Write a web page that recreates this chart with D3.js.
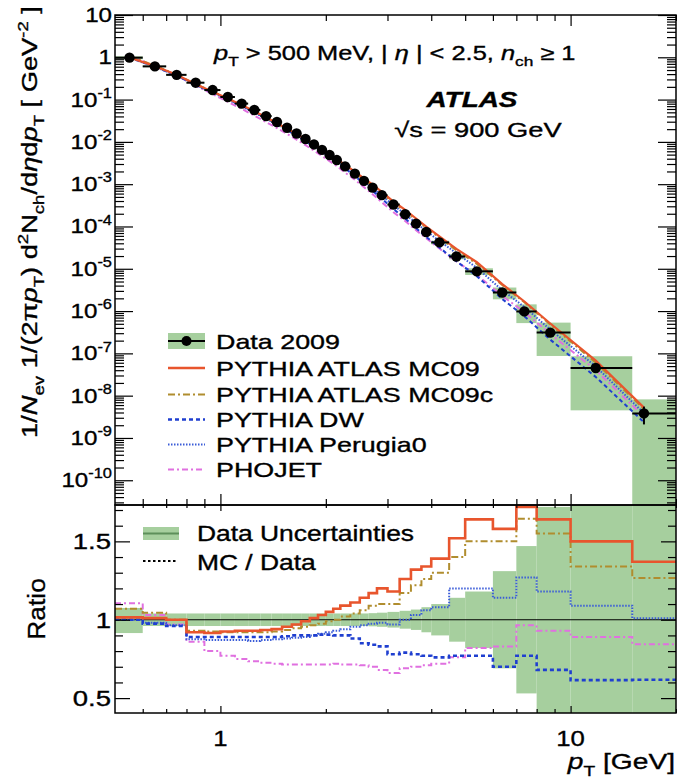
<!DOCTYPE html>
<html>
<head>
<meta charset="utf-8">
<script src="https://cdn.jsdelivr.net/npm/d3@7"></script>
<style>
body { margin: 0; background: #fff; }
text { font-family: "Liberation Sans", Arial, Helvetica, sans-serif; fill: #000; stroke: #000; stroke-width: 0.35px; }
</style>
</head>
<body>
<script>
// pT bin edges [GeV]
var ptEdges = [0.5, 0.6, 0.7, 0.8, 0.9, 1.0, 1.1, 1.2, 1.3, 1.4, 1.5, 1.6, 1.7, 1.8, 1.9, 2.0,
  2.1, 2.2, 2.35, 2.5, 2.65, 2.8, 3.0, 3.25, 3.5, 3.75, 4.0, 4.5, 5.0, 6.0, 7.0, 8.0, 10, 15, 20];
// where the data marker sits inside each bin
var ptPoints = [0.55, 0.65, 0.75, 0.85, 0.95, 1.05, 1.15, 1.25, 1.35, 1.45, 1.55, 1.65, 1.75, 1.85, 1.95,
  2.05, 2.15, 2.27, 2.42, 2.57, 2.72, 2.89, 3.12, 3.37, 3.62, 3.87, 4.22, 4.72, 5.4, 6.38, 7.38, 8.75, 11.8, 16.2];
// 1/Nev 1/(2pi pT) d2N/deta dpT  [GeV^-2]
var dataVals = [0.98, 0.61, 0.385, 0.251, 0.168, 0.115, 0.0804, 0.0569, 0.0407, 0.0295,
  0.0216, 0.0158, 0.0117, 0.0087, 0.00646, 0.0049, 0.00372, 0.00263, 0.00178, 0.0012,
  8.3e-4, 5.5e-4, 3.3e-4, 1.95e-4, 1.17e-4, 7.4e-5, 4.2e-5, 1.95e-5, 8.7e-6, 2.75e-6,
  9.8e-7, 3.1e-7, 4.5e-8, 3.8e-9];
var statErr = [0.01, 0.01, 0.01, 0.01, 0.01, 0.01, 0.01, 0.01, 0.01, 0.01, 0.01, 0.01, 0.01, 0.01,
  0.01, 0.01, 0.01, 0.01, 0.01, 0.01, 0.01, 0.01, 0.01, 0.01, 0.01, 0.01, 0.01, 0.01,
  0.03, 0.05, 0.08, 0.12, 0.2, 0.45];
// relative total uncertainty (green band)
var uncUp = [0.075, 0.04, 0.04, 0.04, 0.04, 0.04, 0.04, 0.04, 0.04, 0.04, 0.04, 0.04, 0.04, 0.04,
  0.04, 0.04, 0.04, 0.04, 0.04, 0.04, 0.042, 0.045, 0.05, 0.057, 0.065, 0.08, 0.10, 0.14,
  0.18, 0.31, 0.47, 0.72, 0.9, 1.15];
var uncDown = [0.085, 0.04, 0.04, 0.04, 0.04, 0.04, 0.04, 0.04, 0.04, 0.04, 0.04, 0.04, 0.04, 0.04,
  0.04, 0.04, 0.04, 0.04, 0.04, 0.04, 0.042, 0.045, 0.05, 0.057, 0.065, 0.08, 0.10, 0.14,
  0.18, 0.31, 0.47, 0.72, 0.9, 1.15];
// MC / Data ratios
var ratioMC09 = [1.015, 1.01, 1.00, 0.92, 0.915, 0.925, 0.93, 0.93, 0.935, 0.94, 0.955, 0.97, 0.99,
  1.01, 1.03, 1.05, 1.07, 1.09, 1.11, 1.14, 1.17, 1.20, 1.18, 1.26, 1.32, 1.34, 1.39, 1.52,
  1.64, 1.58, 1.72, 1.64, 1.50, 1.37];
var ratioMC09c = [1.07, 1.045, 1.0, 0.93, 0.925, 0.92, 0.92, 0.92, 0.92, 0.925, 0.935, 0.945, 0.955,
  0.965, 0.975, 0.99, 1.0, 1.02, 1.04, 1.06, 1.09, 1.10, 1.10, 1.17, 1.22, 1.26, 1.30, 1.40,
  1.50, 1.50, 1.645, 1.55, 1.34, 1.266];
var ratioDW = [1.0, 0.975, 0.96, 0.89, 0.89, 0.89, 0.89, 0.89, 0.89, 0.89, 0.895, 0.9, 0.9, 0.9,
  0.905, 0.905, 0.9, 0.9, 0.88, 0.85, 0.84, 0.83, 0.78, 0.79, 0.78, 0.77, 0.76, 0.77, 0.77,
  0.70, 0.77, 0.68, 0.615, 0.617];
var ratioPerugia0 = [1.0, 0.98, 0.965, 0.875, 0.87, 0.87, 0.87, 0.865, 0.87, 0.875, 0.88, 0.885,
  0.89, 0.9, 0.91, 0.92, 0.93, 0.94, 0.955, 0.965, 0.975, 0.98, 0.97, 1.0, 1.03, 1.06, 1.08,
  1.20, 1.20, 1.14, 1.27, 1.18, 1.09, 1.01];
var ratioPhojet = [1.105, 1.03, 0.97, 0.86, 0.80, 0.77, 0.75, 0.735, 0.725, 0.72, 0.715, 0.715,
  0.715, 0.715, 0.715, 0.715, 0.72, 0.715, 0.715, 0.71, 0.70, 0.68, 0.66, 0.69, 0.70, 0.71,
  0.72, 0.76, 0.82, 0.83, 0.965, 0.93, 0.89, 0.844];

var mcNames = ["PYTHIA ATLAS MC09", "PYTHIA ATLAS MC09c", "PYTHIA DW", "PYTHIA Perugia0", "PHOJET"];
var mcRatios = [ratioMC09, ratioMC09c, ratioDW, ratioPerugia0, ratioPhojet];
var mcStyles = [
  { color: "#e8552d", dash: null, width: 2.6 },
  { color: "#b08d2e", dash: "7,3,2,3", width: 2 },
  { color: "#1f3fd0", dash: "4,3", width: 2.6 },
  { color: "#3a5cd8", dash: "1.5,1.5", width: 2 },
  { color: "#e070e0", dash: "6,3,2,3", width: 2 }
];

var w = 677, h = 780;
var pLeft = 115, pRight = 676, pTop = 15, pMid = 505, pBottom = 713;
var green = "#a6cf9e";

var svg = d3.select("body").append("svg")
  .attr("width", w)
  .attr("height", h);

svg.append("rect").attr("width", w).attr("height", h).attr("fill", "#fff");

var x = d3.scaleLog().domain([0.5, 20]).range([pLeft, pRight]);
var y = d3.scaleLog().domain([2.6e-11, 10]).range([pMid, pTop]);
var yr = d3.scaleLinear().domain([0.405, 1.732]).range([pBottom, pMid]);

var defs = svg.append("defs");
defs.append("clipPath").attr("id", "clipMain").append("rect")
  .attr("x", pLeft).attr("y", pTop).attr("width", pRight - pLeft).attr("height", pMid - pTop);
defs.append("clipPath").attr("id", "clipRatio").append("rect")
  .attr("x", pLeft).attr("y", pMid).attr("width", pRight - pLeft).attr("height", pBottom - pMid);

// text placed at (tx,ty), stretched along its direction by sx (the plot font runs wide)
function label(tx, ty, size, sx, rot) {
  return svg.append("text")
    .attr("transform", "translate(" + tx + "," + ty + ")" + (rot ? " rotate(" + rot + ")" : "") +
      " scale(" + sx + ",1)")
    .attr("font-size", size);
}

// helper for text with sub/superscripts
function rich(sel, parts, size) {
  var shift = 0;
  parts.forEach(function(p) {
    var t = sel.append("tspan").text(p[0]);
    var want = 0;
    if (p[1] == "sub") want = size * 0.3;
    if (p[1] == "sup") want = -size * 0.42;
    t.attr("dy", want - shift);
    shift = want;
    if (p[1] == "sub" || p[1] == "sup") t.attr("font-size", size * 0.68);
    if (p[1] == "i") t.attr("font-style", "italic");
  });
}

// ---------- main panel ----------
var gMain = svg.append("g").attr("clip-path", "url(#clipMain)");

gMain.selectAll(".box")
  .data(dataVals)
  .enter()
  .append("rect")
  .attr("x", function(d, i) { return x(ptEdges[i]); })
  .attr("width", function(d, i) { return x(ptEdges[i + 1]) - x(ptEdges[i]); })
  .attr("y", function(d, i) { return y(d * (1 + uncUp[i])); })
  .attr("height", function(d, i) {
    var lo = d * (1 - uncDown[i]);
    var yl = lo > 0 ? y(lo) : pMid + 5;
    return yl - y(d * (1 + uncUp[i]));
  })
  .attr("fill", green);

var mainLine = d3.line()
  .x(function(d) { return x(d[0]); })
  .y(function(d) { return y(d[1]); });

[4, 3, 2, 1, 0].forEach(function(k) {
  var r = mcRatios[k];
  var pts = r.map(function(v, i) { return [ptPoints[i], dataVals[i] * v]; });
  gMain.append("path")
    .attr("d", mainLine(pts))
    .attr("fill", "none")
    .attr("stroke", mcStyles[k].color)
    .attr("stroke-width", k == 0 ? 2.2 : 2)
    .attr("stroke-dasharray", mcStyles[k].dash);
});

gMain.selectAll(".hbar")
  .data(dataVals)
  .enter()
  .append("line")
  .attr("x1", function(d, i) { return x(ptEdges[i]); })
  .attr("x2", function(d, i) { return x(ptEdges[i + 1]); })
  .attr("y1", function(d) { return y(d); })
  .attr("y2", function(d) { return y(d); })
  .attr("stroke", "#000")
  .attr("stroke-width", 2);

gMain.selectAll(".vbar")
  .data(dataVals)
  .enter()
  .append("line")
  .attr("x1", function(d, i) { return x(ptPoints[i]); })
  .attr("x2", function(d, i) { return x(ptPoints[i]); })
  .attr("y1", function(d, i) { return y(d * (1 + statErr[i])); })
  .attr("y2", function(d, i) { return y(d * (1 - statErr[i])); })
  .attr("stroke", "#000")
  .attr("stroke-width", 2);

gMain.selectAll(".dot")
  .data(dataVals)
  .enter()
  .append("circle")
  .attr("cx", function(d, i) { return x(ptPoints[i]); })
  .attr("cy", function(d) { return y(d); })
  .attr("r", 5.2)
  .attr("fill", "#000");

// ---------- ratio panel ----------
var gRatio = svg.append("g").attr("clip-path", "url(#clipRatio)");

gRatio.selectAll(".band")
  .data(dataVals)
  .enter()
  .append("rect")
  .attr("x", function(d, i) { return x(ptEdges[i]); })
  .attr("width", function(d, i) { return x(ptEdges[i + 1]) - x(ptEdges[i]); })
  .attr("y", function(d, i) { return yr(1 + uncUp[i]); })
  .attr("height", function(d, i) { return yr(1 - uncDown[i]) - yr(1 + uncUp[i]); })
  .attr("fill", green);

gRatio.append("line")
  .attr("x1", pLeft).attr("x2", pRight)
  .attr("y1", yr(1)).attr("y2", yr(1))
  .attr("stroke", "#000").attr("stroke-width", 1.2);

var stepLine = d3.line()
  .x(function(d) { return x(d[0]); })
  .y(function(d) { return yr(d[1]); })
  .curve(d3.curveStepAfter);

// draw from back to front so MC09 ends on top
[4, 3, 2, 1, 0].forEach(function(k) {
  var r = mcRatios[k];
  var pts = r.map(function(v, i) { return [ptEdges[i], v]; });
  pts.push([ptEdges[ptEdges.length - 1], r[r.length - 1]]);
  gRatio.append("path")
    .attr("d", stepLine(pts))
    .attr("fill", "none")
    .attr("stroke", mcStyles[k].color)
    .attr("stroke-width", mcStyles[k].width)
    .attr("stroke-dasharray", mcStyles[k].dash);
});

// ---------- axes / ticks ----------
var decades = d3.range(-10, 2).map(function(e) { return Math.pow(10, e); });
var minors = [];
d3.range(-11, 1).forEach(function(e) {
  for (var m = 2; m <= 9; m++) {
    var v = m * Math.pow(10, e);
    if (v > 2.6e-11 && v < 10) minors.push(v);
  }
});
var xMajor = [1, 10];
var xMinor = [0.6, 0.7, 0.8, 0.9, 2, 3, 4, 5, 6, 7, 8, 9, 20];

function ticks(g, axis) {
  g.call(axis);
  g.select(".domain").remove();
  g.selectAll("line").attr("stroke", "#000").attr("stroke-width", 1.2);
  g.selectAll("text").remove();
}

svg.append("g").attr("transform", "translate(" + pLeft + ",0)")
  .call(ticks, d3.axisLeft(y).tickValues(decades).tickSize(-18));
svg.append("g").attr("transform", "translate(" + pLeft + ",0)")
  .call(ticks, d3.axisLeft(y).tickValues(minors).tickSize(-9));
svg.append("g").attr("transform", "translate(" + pRight + ",0)")
  .call(ticks, d3.axisRight(y).tickValues(decades).tickSize(-18));
svg.append("g").attr("transform", "translate(" + pRight + ",0)")
  .call(ticks, d3.axisRight(y).tickValues(minors).tickSize(-9));

svg.append("g").attr("transform", "translate(0," + pTop + ")")
  .call(ticks, d3.axisTop(x).tickValues(xMajor).tickSize(-11));
svg.append("g").attr("transform", "translate(0," + pTop + ")")
  .call(ticks, d3.axisTop(x).tickValues(xMinor).tickSize(-6));
svg.append("g").attr("transform", "translate(0," + pMid + ")")
  .call(ticks, d3.axisBottom(x).tickValues(xMajor).tickSize(-11));
svg.append("g").attr("transform", "translate(0," + pMid + ")")
  .call(ticks, d3.axisBottom(x).tickValues(xMinor).tickSize(-6));
svg.append("g").attr("transform", "translate(0," + pMid + ")")
  .call(ticks, d3.axisTop(x).tickValues(xMajor).tickSize(-6));
svg.append("g").attr("transform", "translate(0," + pMid + ")")
  .call(ticks, d3.axisTop(x).tickValues(xMinor).tickSize(-3));
svg.append("g").attr("transform", "translate(0," + pBottom + ")")
  .call(ticks, d3.axisBottom(x).tickValues(xMajor).tickSize(-7));
svg.append("g").attr("transform", "translate(0," + pBottom + ")")
  .call(ticks, d3.axisBottom(x).tickValues(xMinor).tickSize(-4));

var rMajor = [0.5, 1, 1.5];
var rMinor = [0.6, 0.7, 0.8, 0.9, 1.1, 1.2, 1.3, 1.4, 1.6, 1.7];
svg.append("g").attr("transform", "translate(" + pLeft + ",0)")
  .call(ticks, d3.axisLeft(yr).tickValues(rMajor).tickSize(-15));
svg.append("g").attr("transform", "translate(" + pLeft + ",0)")
  .call(ticks, d3.axisLeft(yr).tickValues(rMinor).tickSize(-8));
svg.append("g").attr("transform", "translate(" + pRight + ",0)")
  .call(ticks, d3.axisRight(yr).tickValues(rMajor).tickSize(-15));
svg.append("g").attr("transform", "translate(" + pRight + ",0)")
  .call(ticks, d3.axisRight(yr).tickValues(rMinor).tickSize(-8));

// frames
svg.append("rect").attr("x", pLeft).attr("y", pTop).attr("width", pRight - pLeft).attr("height", pMid - pTop)
  .attr("fill", "none").attr("stroke", "#000").attr("stroke-width", 1.5);
svg.append("rect").attr("x", pLeft).attr("y", pMid).attr("width", pRight - pLeft).attr("height", pBottom - pMid)
  .attr("fill", "none").attr("stroke", "#000").attr("stroke-width", 1.5);

// y tick labels (main)
decades.forEach(function(v) {
  var e = Math.round(Math.log10(v));
  var t = label(112, y(v) + 7, 21, 1.15).attr("text-anchor", "end");
  if (e == 0) t.text("1");
  else if (e == 1) t.text("10");
  else rich(t, [["10", "n"], [String(e), "sup"]], 21);
});

// ratio tick labels
var rLabels = ["0.5", "1", "1.5"];
rMajor.forEach(function(v, i) {
  label(111, yr(v) + 8, 22, 1.25).attr("text-anchor", "end").text(rLabels[i]);
});

// x tick labels
var xLabels = ["1", "10"];
xMajor.forEach(function(v, i) {
  label(x(v), 746, 23, 1.12).attr("text-anchor", "middle").text(xLabels[i]);
});

// axis titles
var xt = label(675, 769, 22, 1.28).attr("text-anchor", "end");
rich(xt, [["p", "i"], ["T", "sub"], [" [GeV]", "n"]], 22);

var yt = label(37, 222, 22, 1.24, -90).attr("text-anchor", "middle");
rich(yt, [["1/", "n"], ["N", "i"], ["ev", "sub"], [" 1/(2\u03C0", "n"], ["p", "i"], ["T", "sub"],
  [") d", "n"], ["2", "sup"], ["N", "n"], ["ch", "sub"], ["/d", "n"], ["\u03B7", "i"], ["d", "n"],
  ["p", "i"], ["T", "sub"], [" [ GeV", "n"], ["-2", "sup"], [" ]", "n"]], 22);

label(45, 609, 24, 1.1, -90).attr("text-anchor", "middle").text("Ratio");

// annotations
var cut = label(214, 60, 20, 1.27);
rich(cut, [["p", "i"], ["T", "sub"], [" > 500 MeV, | ", "n"], ["\u03B7", "i"], [" | < 2.5, ", "n"],
  ["n", "i"], ["ch", "sub"], [" \u2265 1", "n"]], 20);

label(472, 107, 22, 1.27).attr("text-anchor", "middle")
  .attr("font-weight", "bold").attr("font-style", "italic").text("ATLAS");

label(478, 137, 21, 1.3).attr("text-anchor", "middle").text("\u221As = 900 GeV");

// ---------- legends ----------
var legRows = [341, 368, 394.5, 419.5, 444.5, 469.5];
var legX1 = 168, legX2 = 205;
var lg = svg.append("g");
lg.append("rect").attr("x", legX1).attr("y", legRows[0] - 8).attr("width", legX2 - legX1).attr("height", 16)
  .attr("fill", green);
lg.append("line").attr("x1", legX1).attr("x2", legX2).attr("y1", legRows[0]).attr("y2", legRows[0])
  .attr("stroke", "#000").attr("stroke-width", 2);
lg.append("circle").attr("cx", (legX1 + legX2) / 2).attr("cy", legRows[0]).attr("r", 5).attr("fill", "#000");
label(216, legRows[0] + 7.5, 21, 1.28).text("Data 2009");

mcNames.forEach(function(n, k) {
  var yy = legRows[k + 1];
  lg.append("line").attr("x1", legX1).attr("x2", legX2).attr("y1", yy).attr("y2", yy)
    .attr("stroke", mcStyles[k].color)
    .attr("stroke-width", mcStyles[k].width)
    .attr("stroke-dasharray", mcStyles[k].dash);
  label(216, yy + 7.5, 21, 1.28).text(n);
});

var rl = svg.append("g");
rl.append("rect").attr("x", 143).attr("y", 527).attr("width", 36).attr("height", 13).attr("fill", green);
rl.append("line").attr("x1", 143).attr("x2", 179).attr("y1", 533.5).attr("y2", 533.5)
  .attr("stroke", "#5d8f5a").attr("stroke-width", 2);
label(197, 541, 22, 1.2).text("Data Uncertainties");
rl.append("line").attr("x1", 143).attr("x2", 178).attr("y1", 561).attr("y2", 561)
  .attr("stroke", "#000").attr("stroke-width", 2).attr("stroke-dasharray", "2.5,2.5");
label(197, 570, 22, 1.2).text("MC / Data");
</script>
</body>
</html>
